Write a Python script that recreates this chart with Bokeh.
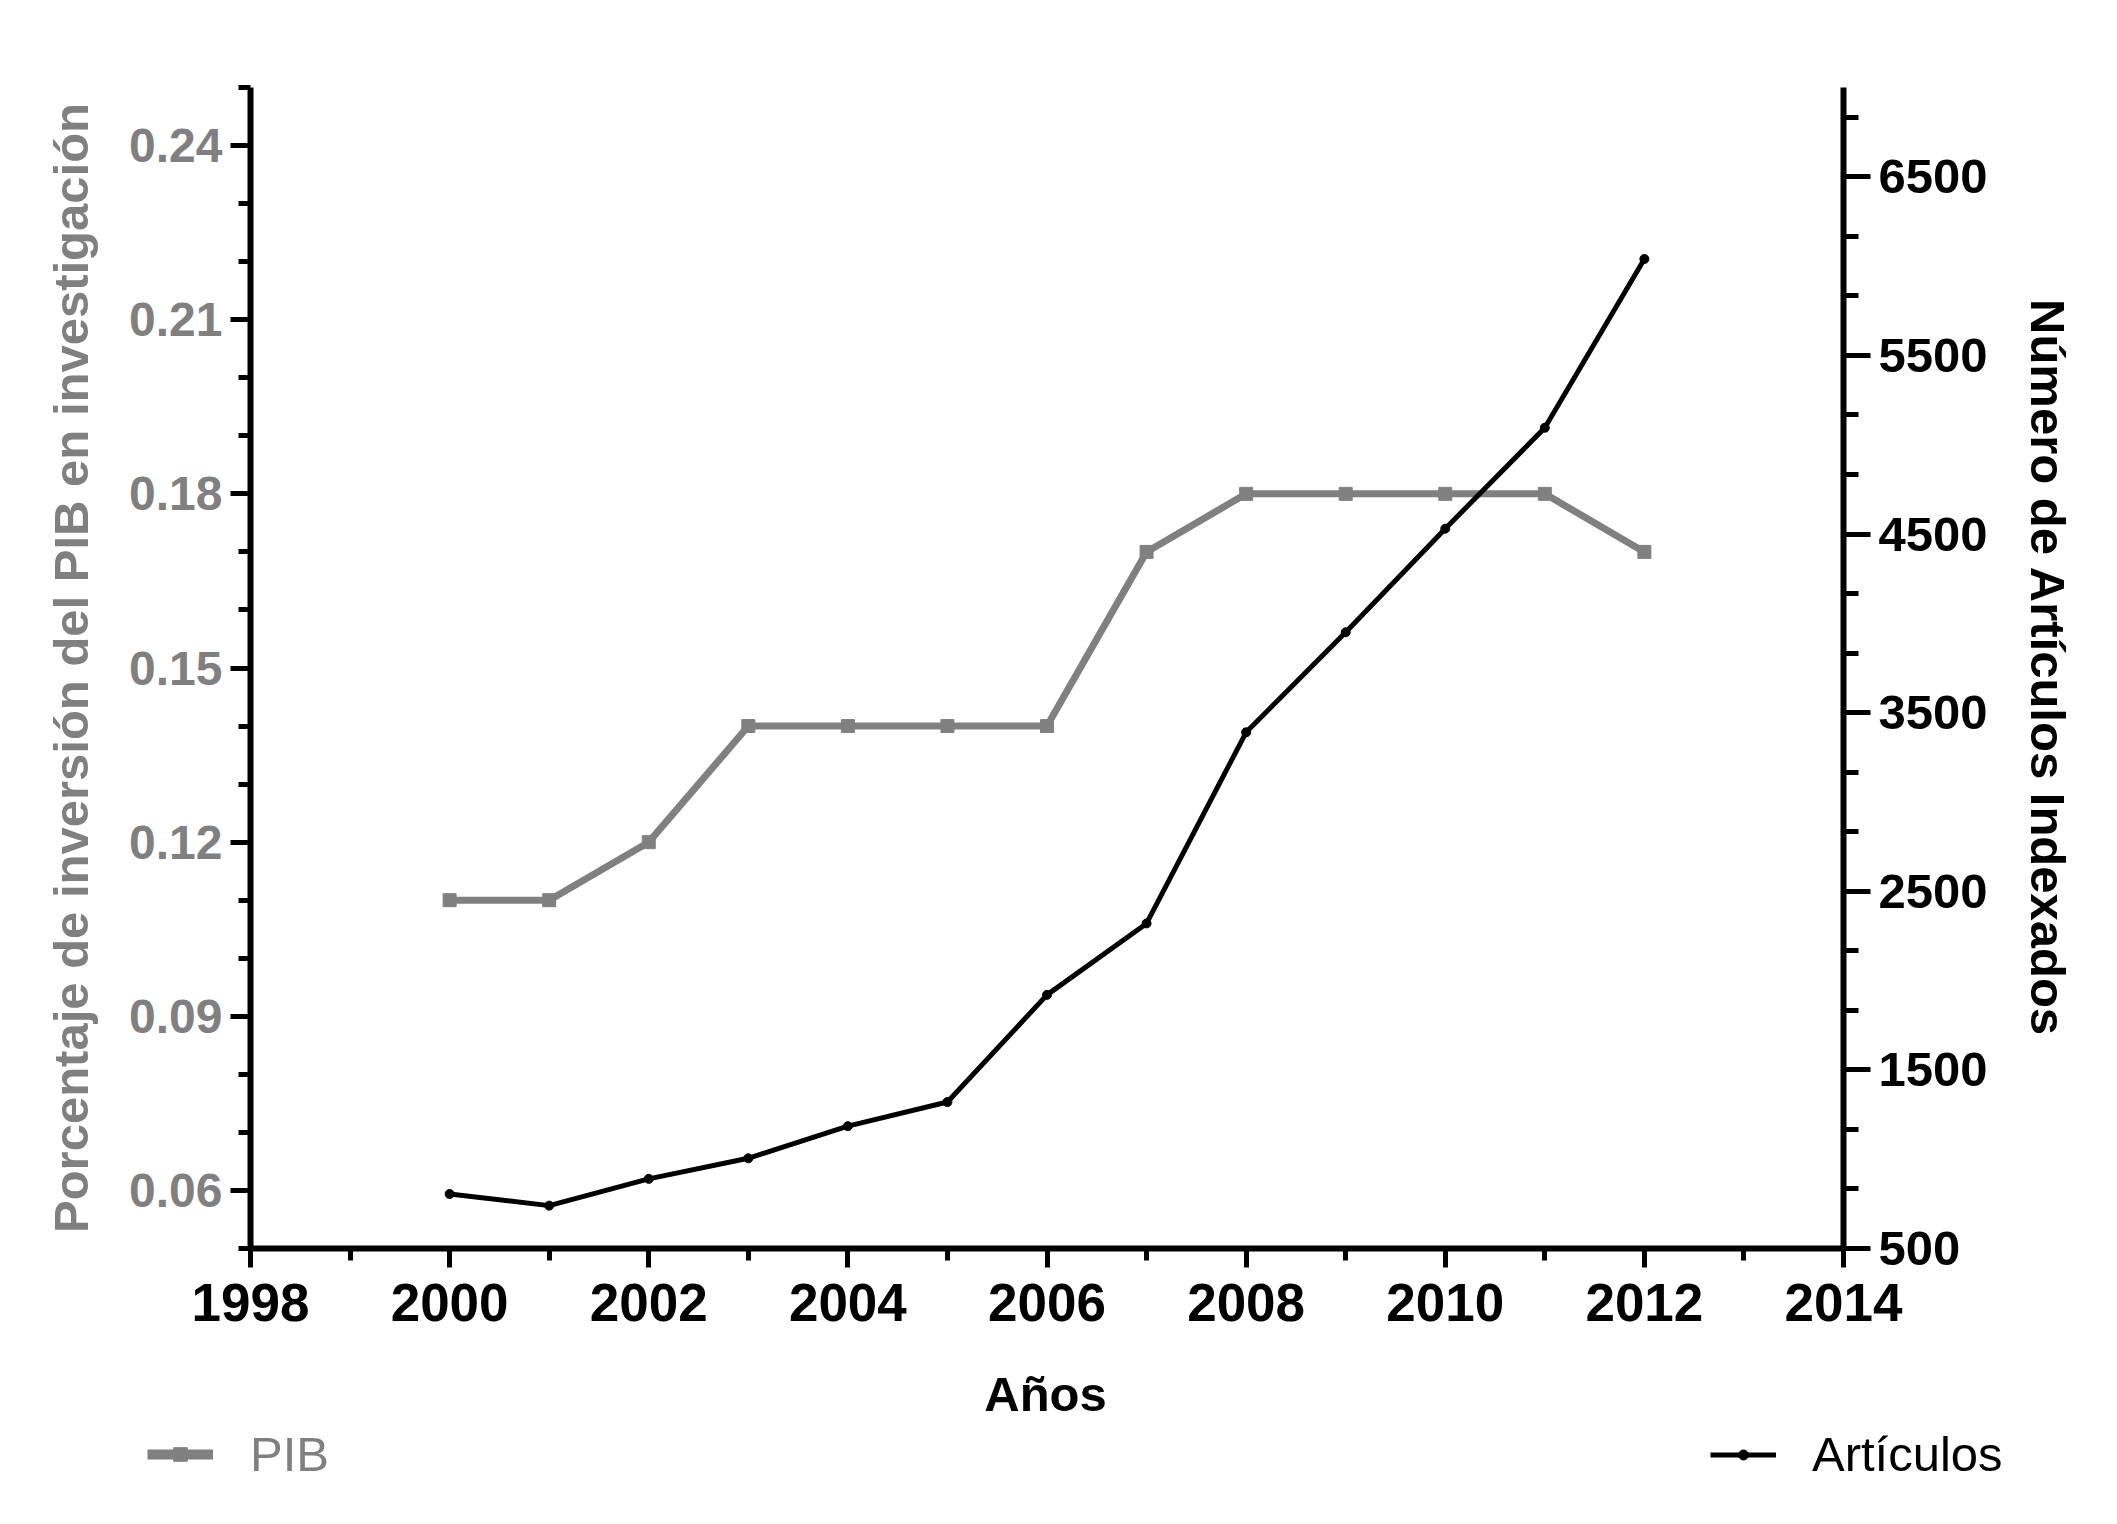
from bokeh.plotting import figure
from bokeh.layouts import column
from bokeh.models import (Range1d, LinearAxis, FixedTicker, PrintfTickFormatter,
                          Legend, LegendItem, ColumnDataSource, Label)
from bokeh.embed import file_html
from bokeh.resources import INLINE

# ---- data ----
years = [2000, 2001, 2002, 2003, 2004, 2005, 2006, 2007, 2008, 2009, 2010, 2011, 2012]
pib = [0.11, 0.11, 0.12, 0.14, 0.14, 0.14, 0.14, 0.17, 0.18, 0.18, 0.18, 0.18, 0.17]
articulos = [805, 740, 890, 1005, 1185, 1320, 1920, 2320, 3390, 3950, 4530, 5095, 6040]

x_ticks = [1998, 2000, 2002, 2004, 2006, 2008, 2010, 2012, 2014]
x_minor = [1999, 2001, 2003, 2005, 2007, 2009, 2011, 2013]
pib_ticks = [0.06, 0.09, 0.12, 0.15, 0.18, 0.21, 0.24]
pib_minor = [0.05, 0.06, 0.07, 0.08, 0.09, 0.10, 0.11, 0.12, 0.13, 0.14, 0.15,
             0.16, 0.17, 0.18, 0.19, 0.20, 0.21, 0.22, 0.23, 0.24, 0.25]
art_ticks = [500, 1500, 2500, 3500, 4500, 5500, 6500]
art_minor = [500, 833.33, 1166.67, 1500, 1833.33, 2166.67, 2500, 2833.33, 3166.67,
             3500, 3833.33, 4166.67, 4500, 4833.33, 5166.67, 5500, 5833.33,
             6166.67, 6500, 6833.33]

x_label = "Años"
left_label = "Porcentaje de inversión del PIB en investigación"
right_label = "Número de Artículos Indexados"
pib_name = "PIB"
art_name = "Artículos"

GRAY = "#808080"
FONT = "Liberation Sans"

src = ColumnDataSource(dict(year=years, pib=pib, art=articulos))

# ---------------- main chart ----------------
p = figure(frame_width=1593, frame_height=1161,
           min_border_left=250, min_border_top=87, min_border_right=254,
           min_border_bottom=110,
           x_range=Range1d(1998, 2014), y_range=Range1d(0.05, 0.25),
           output_backend="svg", toolbar_location=None)
p.extra_y_ranges = {"art": Range1d(500, 7000)}
p.outline_line_color = None
p.xgrid.visible = False
p.ygrid.visible = False
p.background_fill_color = "white"
p.border_fill_color = "white"

def style_axis(ax, label_color, font_size, tick_out, minor_out, standoff):
    ax.axis_line_width = 6
    ax.axis_line_color = "black"
    ax.major_tick_line_width = 5
    ax.minor_tick_line_width = 5
    ax.major_tick_line_color = "black"
    ax.minor_tick_line_color = "black"
    ax.major_tick_in = 0
    ax.minor_tick_in = 0
    ax.major_tick_out = tick_out
    ax.minor_tick_out = minor_out
    ax.major_label_text_font = FONT
    ax.major_label_text_font_style = "bold"
    ax.major_label_text_font_size = font_size
    ax.major_label_text_color = label_color
    ax.major_label_standoff = standoff
    ax.axis_label_text_font = FONT
    ax.axis_label_text_font_style = "bold"
    ax.axis_label_text_font_size = "49px"

# x axis (its title "Años" is drawn in the strip below)
xa = p.xaxis[0]
xa.ticker = FixedTicker(ticks=x_ticks, minor_ticks=x_minor)
style_axis(xa, "black", "53px", 19, 12, 16)

# left axis
ya = p.yaxis[0]
ya.ticker = FixedTicker(ticks=pib_ticks, minor_ticks=pib_minor)
ya.formatter = PrintfTickFormatter(format="%.2f")
style_axis(ya, GRAY, "48px", 20, 12, 8)
ya.axis_label = left_label
ya.axis_label_text_color = GRAY
ya.axis_label_standoff = 28

# right axis
ra = LinearAxis(y_range_name="art")
ra.ticker = FixedTicker(ticks=art_ticks, minor_ticks=art_minor)
style_axis(ra, "black", "49px", 27, 15, 8)
ra.axis_label = right_label
ra.axis_label_text_color = "black"
ra.axis_label_standoff = 30
p.add_layout(ra, "right")

# series
p.line("year", "pib", source=src, line_color=GRAY, line_width=7)
p.scatter("year", "pib", source=src, marker="square", size=13,
          fill_color=GRAY, line_color=GRAY)
p.line("year", "art", source=src, line_color="black", line_width=5,
       y_range_name="art")
p.scatter("year", "art", source=src, marker="circle", size=9,
          fill_color="black", line_color="black", y_range_name="art")

# ---------------- strip below: x title + legends ----------------
STRIP_H = 150
q = figure(frame_width=2097, frame_height=STRIP_H,
           min_border_left=0, min_border_right=0, min_border_top=0,
           min_border_bottom=0, x_axis_location=None, y_axis_location=None,
           x_range=Range1d(0, 1), y_range=Range1d(0, 1),
           output_backend="svg", toolbar_location=None)
q.outline_line_color = None
q.xgrid.visible = False
q.ygrid.visible = False
q.background_fill_color = "white"
q.border_fill_color = "white"

# legend sample renderers: same data, lying outside this strip's ranges
ql1 = q.line("year", "pib", source=src, line_color=GRAY, line_width=10)
qs1 = q.scatter("year", "pib", source=src, marker="square", size=13,
                fill_color=GRAY, line_color=GRAY)
ql2 = q.line("year", "art", source=src, line_color="black", line_width=5)
qs2 = q.scatter("year", "art", source=src, marker="circle", size=10,
                fill_color="black", line_color="black")

q.add_layout(Label(x=795, y=115, x_units="screen", y_units="screen",
                   text=x_label, text_align="center", text_baseline="alphabetic",
                   text_font=FONT, text_font_style="bold",
                   text_font_size="49px", text_color="black"))

def make_legend(item, loc, color, standoff, glyph_h):
    return Legend(items=[item], location=loc, orientation="horizontal",
                  padding=0, margin=0, spacing=0,
                  border_line_color=None, background_fill_alpha=0,
                  glyph_width=66, glyph_height=glyph_h, label_height=60,
                  label_standoff=standoff,
                  label_text_font=FONT, label_text_font_size="49px",
                  label_text_color=color)

q.add_layout(make_legend(LegendItem(label=pib_name, renderers=[ql1, qs1]),
                         (147, 24), GRAY, 37, 34))
q.add_layout(make_legend(LegendItem(label=art_name, renderers=[ql2, qs2]),
                         (1710, 24), "black", 36, 25))

layout = column(p, q, spacing=0)
open("out.html", "w").write(file_html(layout, INLINE))
